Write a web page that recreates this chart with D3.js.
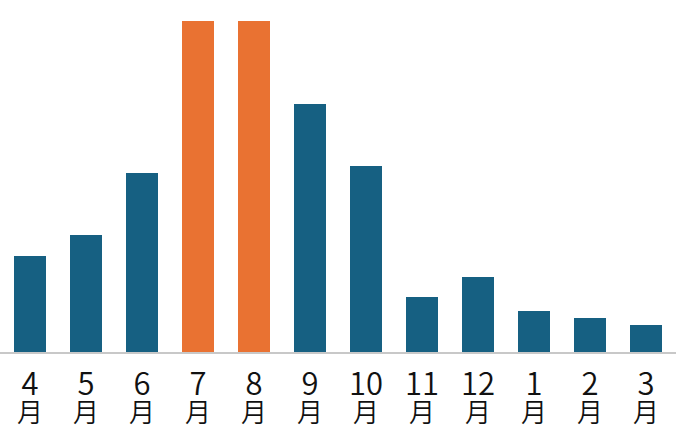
<!DOCTYPE html>
<html><head><meta charset="utf-8">
<script src="https://cdn.jsdelivr.net/npm/d3@7"></script>
<style>html,body{margin:0;padding:0;background:#fff;}svg{display:block;}</style>
</head><body>
<svg id="chart" width="676" height="448"></svg>
<script>
const months = ["4","5","6","7","8","9","10","11","12","1","2","3"];
const values = [96,117,179,331,331,248,186,55,75,41,34,27];
const highlight = ["7","8"];

const svg = d3.select("#chart");
const x = d3.scaleBand().domain(months).range([14,662]).paddingInner(24/56).paddingOuter(0);
const y = d3.scaleLinear().domain([0,331]).range([352,21]);

svg.selectAll("rect.bar").data(months).join("rect")
  .attr("class","bar")
  .attr("x", d=>x(d)).attr("width", x.bandwidth())
  .attr("y", (d,i)=>y(values[i])).attr("height", (d,i)=>y(0)-y(values[i]))
  .attr("fill", d=>highlight.includes(d) ? "#E97232" : "#166082");

svg.append("line").attr("x1",0).attr("x2",676).attr("y1",353).attr("y2",353)
  .attr("stroke","#c8c8c8").attr("stroke-width",2);

const axis = d3.axisBottom(x).tickSize(0).tickPadding(0).tickFormat("");
const g = svg.append("g").attr("transform","translate(0,353)").call(axis);
g.select(".domain").remove();
g.selectAll(".tick text").remove();
g.selectAll(".tick").each(function(m){
  const t = d3.select(this).append("text").attr("text-anchor","middle")
    .attr("font-family","'Noto Sans CJK JP','Noto Sans',sans-serif").attr("fill","#111");
  t.append("tspan").attr("x",0).attr("y",42).attr("font-size",31).attr("font-weight",350).text(m);
  t.append("tspan").attr("x",0).attr("y",69).attr("font-size",26).attr("font-weight",350).text("月");
});
</script>
</body></html>
